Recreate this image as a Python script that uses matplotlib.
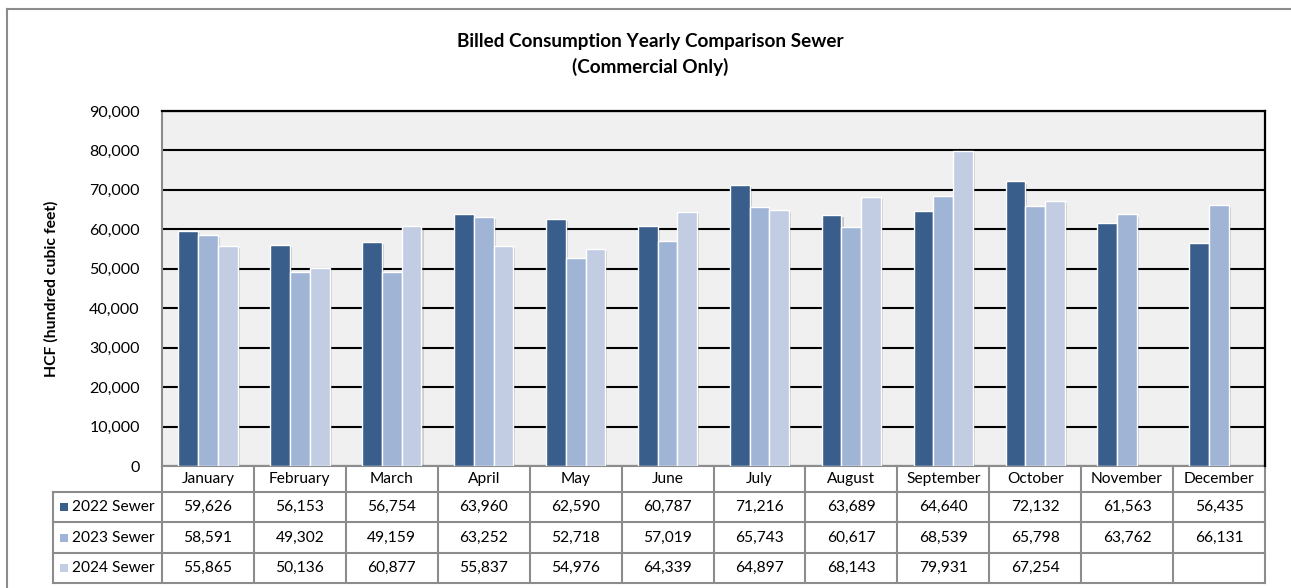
import numpy as np
import matplotlib
matplotlib.use("Agg")
from matplotlib import pyplot as plt
from matplotlib import patheffects as pe
from matplotlib import transforms
from matplotlib.lines import Line2D
from matplotlib.patches import Rectangle

plt.rcParams["font.family"] = ["Lato", "DejaVu Sans"]

months = ["January", "February", "March", "April", "May", "June",
          "July", "August", "September", "October", "November", "December"]
series_names = ["2022 Sewer", "2023 Sewer", "2024 Sewer"]
sewer_2022 = [59626, 56153, 56754, 63960, 62590, 60787, 71216, 63689, 64640, 72132, 61563, 56435]
sewer_2023 = [58591, 49302, 49159, 63252, 52718, 57019, 65743, 60617, 68539, 65798, 63762, 66131]
sewer_2024 = [55865, 50136, 60877, 55837, 54976, 64339, 64897, 68143, 79931, 67254, None, None]
colors = ["#3A5E8C", "#A0B4D5", "#C2CDE3"]

W, H = 1291, 588
fig = plt.figure(figsize=(W / 100, H / 100), dpi=100)

# plot area in pixels: left 162, right 1265, top 111, bottom 466
px_l, px_r, px_t, px_b = 162, 1265, 111, 466
ax = fig.add_axes([px_l / W, 1 - px_b / H, (px_r - px_l) / W, (px_b - px_t) / H])
ax.set_facecolor("#F0F0F0")

x = np.arange(len(months))
bw = 0.215
all_series = [sewer_2022, sewer_2023, sewer_2024]
for i, (vals, c) in enumerate(zip(all_series, colors)):
    v = np.array([np.nan if a is None else a for a in vals], dtype=float)
    bars = ax.bar(x + (i - 1) * bw, v, width=bw, color=c, edgecolor="white",
                  linewidth=1.0, zorder=3)
    for b in bars:
        b.set_path_effects([pe.SimplePatchShadow(offset=(1.5, -1.5), alpha=0.2),
                            pe.Normal()])

ax.set_xlim(-0.5, len(months) - 0.5)
ax.set_ylim(0, 90000)
ax.set_yticks(np.arange(0, 90001, 10000))
ax.set_yticklabels([f"{t:,}" for t in range(0, 90001, 10000)], fontsize=11.5)
ax.tick_params(axis="y", length=0, pad=16)
ax.set_xticks([])
ax.yaxis.grid(True, color="black", linewidth=1.5, zorder=1)
ax.set_axisbelow(True)
ax.spines["left"].set_color("#8C8C8C")
ax.spines["left"].set_linewidth(1.5)
ax.spines["top"].set_linewidth(1.6)
ax.spines["right"].set_linewidth(1.6)
ax.spines["bottom"].set_visible(False)
ax.set_ylabel("HCF (hundred cubic feet)", fontsize=11.3, fontweight="bold", labelpad=22)

fig.text(650 / W, 1 - 42 / H, "Billed Consumption Yearly Comparison Sewer",
         ha="center", va="center", fontsize=13.6, fontweight="bold")
fig.text(650 / W, 1 - 67 / H, "(Commercial Only)",
         ha="center", va="center", fontsize=13.6, fontweight="bold")

# data table under the axis
trans = transforms.blended_transform_factory(ax.transData, ax.transAxes)
ph = px_b - px_t
upx = len(months) / (px_r - px_l)  # data units per pixel
row_edges_px = [466, 492, 522, 553, 583]
row_edges = [(px_b - r) / ph for r in row_edges_px]
lc = "#8C8C8C"
lw = 1.5
leg_left = -0.5 - (px_l - 53) * upx

# horizontal lines
ax.add_line(Line2D([-0.5, len(months) - 0.5], [row_edges[0]] * 2, transform=trans,
                   color=lc, lw=lw, clip_on=False))
for r in row_edges[1:]:
    ax.add_line(Line2D([leg_left, len(months) - 0.5], [r, r], transform=trans,
                       color=lc, lw=lw, clip_on=False))
# vertical lines
for k in range(len(months) + 1):
    ax.add_line(Line2D([k - 0.5, k - 0.5], [row_edges[0], row_edges[-1]], transform=trans,
                       color=lc, lw=lw, clip_on=False))
ax.add_line(Line2D([leg_left, leg_left], [row_edges[1], row_edges[-1]], transform=trans,
                   color=lc, lw=lw, clip_on=False))

fs = 11.2
for k, m in enumerate(months):
    ax.text(k, (row_edges[0] + row_edges[1]) / 2, m, transform=trans, ha="center",
            va="center", fontsize=fs)
sq = 8 / ph
for j, (name, vals, c) in enumerate(zip(series_names, all_series, colors)):
    yc = (row_edges[j + 1] + row_edges[j + 2]) / 2
    for k, v in enumerate(vals):
        if v is not None:
            ax.text(k, yc, f"{v:,}", transform=trans, ha="center", va="center", fontsize=fs)
    ax.add_patch(Rectangle((leg_left + 7 * upx, yc - sq / 2), 8 * upx, sq, transform=trans,
                           facecolor=c, edgecolor="none", clip_on=False))
    ax.text(leg_left + 19 * upx, yc, name, transform=trans, ha="left", va="center", fontsize=fs)

# outer chart border (right and bottom are cut off in the reference)
fig.add_artist(Line2D([7 / W, 1], [1 - 9 / H] * 2, color="#8C8C8C", lw=1.5))
fig.add_artist(Line2D([7 / W] * 2, [0, 1 - 9 / H], color="#8C8C8C", lw=1.5))

fig.savefig("out.png", dpi=100)
